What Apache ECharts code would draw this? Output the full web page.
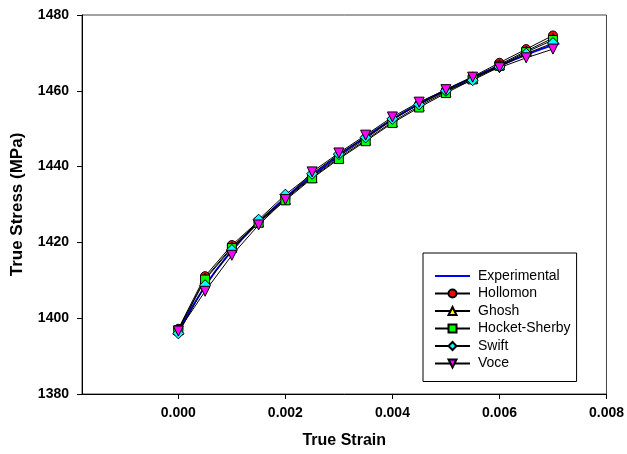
<!DOCTYPE html>
<html>
<head>
<meta charset="utf-8">
<script src="https://cdn.jsdelivr.net/npm/echarts@6/dist/echarts.min.js"></script>
<style>
  html, body { margin: 0; padding: 0; background: #fff; }
  #chart { width: 627px; height: 454px; }
</style>
</head>
<body>
<div id="chart"></div>
<script>
// Strain levels at which each hardening model was evaluated
const modelStrain = [0, 0.0005, 0.001, 0.0015, 0.002, 0.0025, 0.003, 0.0035, 0.004, 0.0045, 0.005, 0.0055, 0.006, 0.0065, 0.007];

// Measured curve
const expStrain = [0, 0.0005, 0.001, 0.0015, 0.002, 0.0025, 0.003, 0.0035, 0.004, 0.0045, 0.005, 0.0055, 0.006, 0.0065, 0.007, 0.00712];
const experimental = [1396.3, 1408.5, 1417.8, 1425.3, 1431.8, 1437.6, 1443.0, 1447.8, 1452.5, 1456.6, 1460.2, 1463.5, 1466.6, 1469.5, 1472.1, 1472.4];

// Fitted models (MPa)
const hollomon = [1397.2, 1411.1, 1419.3, 1425.6, 1431.7, 1437.3, 1442.7, 1447.4, 1452.3, 1456.5, 1460.2, 1463.7, 1467.4, 1471.0, 1474.6];
const ghosh = [1397.0, 1410.5, 1418.8, 1425.4, 1431.4, 1437.1, 1442.3, 1447.0, 1451.8, 1456.0, 1459.7, 1463.3, 1466.9, 1470.5, 1473.9];
const hocketSherby = [1396.8, 1410.2, 1418.5, 1425.2, 1431.1, 1436.9, 1442.0, 1446.7, 1451.5, 1455.6, 1459.4, 1463.0, 1466.6, 1470.2, 1473.4];
const swift = [1396.0, 1408.7, 1418.0, 1426.0, 1432.6, 1438.1, 1443.3, 1447.7, 1452.6, 1456.4, 1460.0, 1462.8, 1466.3, 1469.8, 1472.6];
const voce = [1396.6, 1407.1, 1416.6, 1424.6, 1431.3, 1438.6, 1443.6, 1448.3, 1453.1, 1457.0, 1460.3, 1463.6, 1466.1, 1468.7, 1471.0];

// Axis ticks
const xTicks = [0, 0.002, 0.004, 0.006, 0.008];
const yTicks = [1380, 1400, 1420, 1440, 1460, 1480];

const pairs = (xs, ys) => xs.map((x, i) => [x, ys[i]]);
const downTriangle = 'path://M0,0L10,0L5,10Z';
const font = 'Liberation Sans, Arial, sans-serif';

function modelSeries(name, values, symbol, color, size) {
  return {
    name: name,
    type: 'line',
    data: pairs(modelStrain, values),
    symbol: symbol,
    symbolSize: size,
    showAllSymbol: true,
    lineStyle: { color: '#000', width: 1 },
    itemStyle: { color: color, borderColor: '#000', borderWidth: 1 },
    emphasis: { disabled: true },
    animation: false
  };
}

const chart = echarts.init(document.getElementById('chart'), null, { renderer: 'canvas' });

chart.setOption({
  backgroundColor: '#fff',
  animation: false,
  grid: {
    left: 82, top: 15, right: 17, bottom: 60,
    show: true, borderColor: '#444', borderWidth: 1, backgroundColor: 'transparent'
  },
  xAxis: {
    type: 'value',
    min: -0.0018,
    max: 0.008,
    name: 'True Strain',
    nameLocation: 'middle',
    nameGap: 39,
    nameTextStyle: { fontFamily: font, fontWeight: 'bold', fontSize: 16, color: '#000' },
    splitLine: { show: false },
    axisLine: { onZero: false, lineStyle: { color: '#000', width: 1 } },
    axisTick: { show: true, length: 5, inside: false, customValues: xTicks, lineStyle: { color: '#000' } },
    axisLabel: {
      customValues: xTicks,
      formatter: v => v.toFixed(3),
      margin: 12,
      fontFamily: font, fontWeight: 'bold', fontSize: 14, color: '#000'
    }
  },
  yAxis: {
    type: 'value',
    min: 1380,
    max: 1480,
    interval: 20,
    name: 'True Stress (MPa)',
    nameLocation: 'middle',
    nameGap: 56,
    nameTextStyle: { fontFamily: font, fontWeight: 'bold', fontSize: 17, color: '#000' },
    splitLine: { show: false },
    axisLine: { show: true, onZero: false, lineStyle: { color: '#000', width: 1 } },
    axisTick: { show: true, length: 5, inside: false, lineStyle: { color: '#000' } },
    axisLabel: {
      customValues: yTicks,
      formatter: v => String(v),
      margin: 13,
      fontFamily: font, fontWeight: 'bold', fontSize: 14, color: '#000'
    }
  },
  legend: {
    orient: 'vertical',
    left: 423,
    top: 253,
    padding: [16, 6, 11, 11],
    itemWidth: 35,
    itemHeight: 10,
    itemGap: 3.5,
    borderColor: '#000',
    borderWidth: 1,
    backgroundColor: '#fff',
    textStyle: { fontFamily: font, fontSize: 14, color: '#000', lineHeight: 14, padding: [0, 0, 0, 3] },
    data: [
      { name: 'Experimental', icon: 'path://M0,0H35V2H0Z' },
      'Hollomon', 'Ghosh', 'Hocket-Sherby', 'Swift', 'Voce'
    ]
  },
  series: [
    {
      name: 'Experimental',
      type: 'line',
      data: pairs(expStrain, experimental),
      symbol: 'none',
      smooth: true,
      lineStyle: { color: '#0000ff', width: 2 },
      itemStyle: { color: '#0000ff' },
      emphasis: { disabled: true },
      animation: false
    },
    modelSeries('Hollomon', hollomon, 'circle', '#ff0000', 9),
    modelSeries('Ghosh', ghosh, 'triangle', '#ffff00', 10),
    modelSeries('Hocket-Sherby', hocketSherby, 'rect', '#00ff00', 9),
    modelSeries('Swift', swift, 'diamond', '#00ffff', 11),
    modelSeries('Voce', voce, downTriangle, '#ff00ff', 10)
  ]
});
</script>
</body>
</html>
